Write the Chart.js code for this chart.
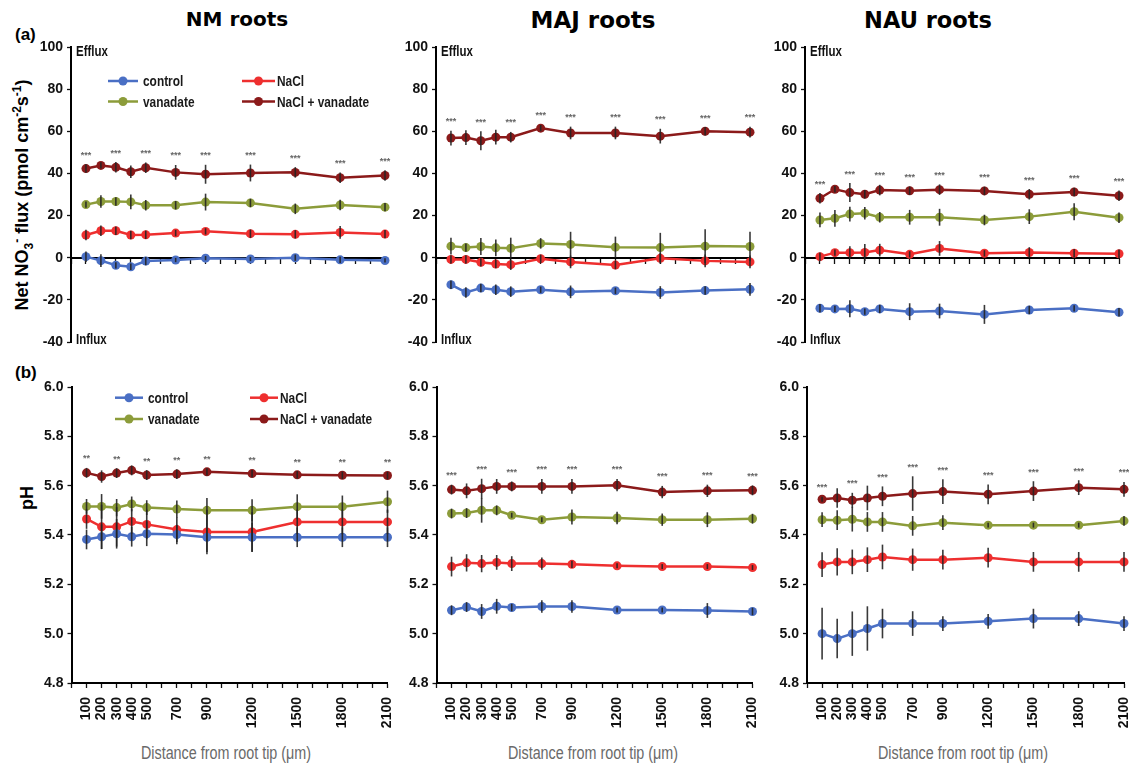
<!DOCTYPE html>
<html><head><meta charset="utf-8">
<script src="https://cdn.jsdelivr.net/npm/chart.js@4.4.0/dist/chart.umd.min.js"></script>
<style>
html,body{margin:0;padding:0;background:#fff;}
body{width:1129px;height:767px;position:relative;overflow:hidden;font-family:'Liberation Sans',Arial,sans-serif;}
canvas{position:absolute;}
.t{position:absolute;white-space:nowrap;color:#000;}
.title{font-family:'DejaVu Sans','Liberation Sans',sans-serif;font-weight:bold;transform:translate(-50%,-50%);}
.lab{font-weight:bold;font-size:17px;transform:translate(0,-50%);}
.ytitle{font-weight:bold;font-size:18px;transform:translate(-50%,-50%) rotate(-90deg);}
.ytitle sub,.ytitle sup{font-size:12px;}
.xtitle{font-size:17.5px;color:#6a6a6a;transform:translate(-50%,-50%) scaleX(0.82);}
</style></head><body>
<div class="t title" style="left:237px;top:19px;font-size:20px;">NM roots</div>
<div class="t title" style="left:593px;top:20px;font-size:23px;">MAJ roots</div>
<div class="t title" style="left:928px;top:20px;font-size:22.5px;">NAU roots</div>
<div class="t lab" style="left:15px;top:35px;">(a)</div>
<div class="t lab" style="left:15px;top:373px;">(b)</div>
<div class="t ytitle" style="left:23px;top:195px;">Net NO<sub>3</sub><sup>-</sup> flux (pmol cm<sup>-2</sup>s<sup>-1</sup>)</div>
<div class="t ytitle" style="left:27px;top:498px;">pH</div>
<div class="t xtitle" style="left:226px;top:753px;">Distance from root tip (μm)</div>
<div class="t xtitle" style="left:593px;top:753px;">Distance from root tip (μm)</div>
<div class="t xtitle" style="left:963px;top:753px;">Distance from root tip (μm)</div>
<script>
// ---------- data ----------
const distances = [100, 200, 300, 400, 500, 700, 900, 1200, 1500, 1800, 2100];
const xTickLabels = [100, 200, 300, 400, 500, 700, 900, 1200, 1500, 1800, 2100];
const starDistances = [100, 300, 500, 700, 900, 1200, 1500, 1800, 2100];
const seriesNames = ['control', 'NaCl', 'vanadate', 'NaCl + vanadate'];
const fluxTicks = [-40, -20, 0, 20, 40, 60, 80, 100];
const phTicks = [4.8, 5.0, 5.2, 5.4, 5.6, 5.8, 6.0];

// (a) NM roots – net NO3- flux
const nmFluxControl = [0.5, -1.4, -3.6, -4.3, -1.6, -1.1, -0.2, -0.6, 0, -1.0, -1.3];
const nmFluxControlErr = [2.5, 3, 1.5, 1.5, 2, 1, 1, 1, 1.5, 1.5, 1];
const nmFluxNaCl = [10.8, 12.8, 12.8, 10.8, 10.9, 11.7, 12.5, 11.4, 11.1, 12.0, 11.2];
const nmFluxNaClErr = [2.5, 2.5, 2, 2, 2, 1.5, 1.5, 2, 2, 3, 2];
const nmFluxVan = [25.2, 26.7, 26.7, 26.5, 24.9, 24.9, 26.4, 26.0, 23.2, 25.0, 24.0];
const nmFluxVanErr = [1.5, 3, 2, 3.5, 2.5, 2, 4, 2, 2.5, 2.5, 2];
const nmFluxNaClVan = [42.3, 43.8, 42.9, 40.8, 42.7, 40.5, 39.6, 40.2, 40.5, 38.0, 39.0];
const nmFluxNaClVanErr = [2, 1.5, 2.5, 3, 2.5, 3.5, 4.5, 4, 2.5, 2.5, 2.5];

// (a) MAJ roots
const majFluxControl = [-12.8, -16.5, -14.4, -15.2, -16.1, -15.2, -16.2, -15.7, -16.5, -15.6, -15.0];
const majFluxControlErr = [2, 2.5, 2, 2.5, 2.5, 1.5, 3, 1.5, 3, 2, 3];
const majFluxNaCl = [-0.8, -0.8, -2.2, -3.0, -3.3, -0.5, -2.0, -3.5, -0.3, -1.5, -2.0];
const majFluxNaClErr = [2, 2, 2, 2, 2.5, 2, 3, 2, 2.5, 3, 3];
const majFluxVan = [5.5, 4.8, 5.3, 4.7, 4.5, 6.8, 6.3, 5.0, 4.8, 5.5, 5.3];
const majFluxVanErr = [4, 2, 4, 4, 5, 2.5, 6, 5, 7, 8, 7];
const majFluxNaClVan = [56.8, 57.0, 55.5, 57.2, 57.2, 61.5, 59.2, 59.2, 57.7, 60.0, 59.6];
const majFluxNaClVanErr = [3.5, 3.5, 4.5, 3.5, 2.5, 1.5, 3, 3, 3.5, 2, 2.5];

// (a) NAU roots
const nauFluxControl = [-24.0, -24.3, -24.2, -25.6, -24.3, -25.6, -25.3, -26.9, -24.8, -24.0, -25.9];
const nauFluxControlErr = [2, 1.5, 4, 1.5, 2, 4, 3.5, 4.5, 2, 1.5, 2];
const nauFluxNaCl = [0.5, 2.4, 2.4, 2.5, 3.6, 1.6, 4.4, 2.1, 2.5, 2.1, 1.9];
const nauFluxNaClErr = [2, 1.5, 3, 4, 3, 1.5, 3.5, 1.5, 2.5, 2, 2];
const nauFluxVan = [17.9, 18.7, 20.7, 21.1, 19.2, 19.2, 19.2, 17.9, 19.5, 21.8, 19.0];
const nauFluxVanErr = [3.5, 4, 3.5, 3, 2.5, 3.5, 4, 2.5, 3.5, 4, 2.5];
const nauFluxNaClVan = [28.2, 32.5, 30.9, 30.1, 32.1, 31.8, 32.3, 31.7, 30.1, 31.2, 29.4];
const nauFluxNaClVanErr = [2.5, 1.5, 4.5, 2, 2.5, 2, 2.5, 2, 2.5, 2, 2.5];

// (b) NM roots – pH
const nmPhControl = [5.382, 5.393, 5.405, 5.393, 5.405, 5.402, 5.391, 5.391, 5.391, 5.391, 5.391];
const nmPhControlErr = [0.04, 0.05, 0.06, 0.04, 0.05, 0.04, 0.06, 0.06, 0.04, 0.04, 0.04];
const nmPhNaCl = [5.465, 5.433, 5.433, 5.455, 5.443, 5.422, 5.412, 5.412, 5.453, 5.453, 5.453];
const nmPhNaClErr = [0.04, 0.09, 0.08, 0.05, 0.06, 0.05, 0.09, 0.08, 0.05, 0.05, 0.05];
const nmPhVan = [5.516, 5.516, 5.511, 5.526, 5.511, 5.505, 5.5, 5.5, 5.515, 5.515, 5.535];
const nmPhVanErr = [0.03, 0.05, 0.035, 0.03, 0.03, 0.035, 0.05, 0.045, 0.05, 0.045, 0.045];
const nmPhNaClVan = [5.652, 5.637, 5.651, 5.662, 5.643, 5.647, 5.656, 5.649, 5.644, 5.642, 5.641];
const nmPhNaClVanErr = [0.02, 0.025, 0.02, 0.02, 0.02, 0.02, 0.015, 0.015, 0.015, 0.015, 0.015];

// (b) MAJ roots
const majPhControl = [5.095, 5.108, 5.090, 5.111, 5.106, 5.110, 5.110, 5.096, 5.096, 5.094, 5.090];
const majPhControlErr = [0.02, 0.02, 0.03, 0.03, 0.015, 0.025, 0.025, 0.01, 0.01, 0.03, 0.015];
const majPhNaCl = [5.272, 5.287, 5.284, 5.289, 5.284, 5.284, 5.281, 5.275, 5.272, 5.272, 5.268];
const majPhNaClErr = [0.04, 0.035, 0.035, 0.03, 0.03, 0.025, 0.015, 0.01, 0.01, 0.01, 0.01];
const majPhVan = [5.487, 5.489, 5.5, 5.5, 5.48, 5.462, 5.473, 5.469, 5.462, 5.462, 5.466];
const majPhVanErr = [0.02, 0.02, 0.05, 0.02, 0.01, 0.01, 0.03, 0.025, 0.025, 0.03, 0.02];
const majPhNaClVan = [5.584, 5.579, 5.588, 5.597, 5.597, 5.597, 5.597, 5.602, 5.574, 5.579, 5.581];
const majPhNaClVanErr = [0.02, 0.03, 0.04, 0.03, 0.02, 0.03, 0.03, 0.025, 0.025, 0.025, 0.02];

// (b) NAU roots
const nauPhControl = [5.0, 4.98, 5.0, 5.021, 5.041, 5.041, 5.041, 5.05, 5.061, 5.061, 5.041];
const nauPhControlErr = [0.105, 0.08, 0.09, 0.09, 0.06, 0.05, 0.03, 0.03, 0.04, 0.03, 0.03];
const nauPhNaCl = [5.28, 5.291, 5.291, 5.3, 5.311, 5.3, 5.3, 5.308, 5.291, 5.291, 5.291];
const nauPhNaClErr = [0.05, 0.055, 0.05, 0.05, 0.05, 0.045, 0.04, 0.04, 0.04, 0.04, 0.04];
const nauPhVan = [5.462, 5.46, 5.464, 5.453, 5.453, 5.437, 5.45, 5.44, 5.44, 5.44, 5.457];
const nauPhVanErr = [0.03, 0.04, 0.05, 0.04, 0.04, 0.04, 0.03, 0.01, 0.01, 0.01, 0.02];
const nauPhNaClVan = [5.545, 5.55, 5.541, 5.55, 5.557, 5.568, 5.576, 5.565, 5.578, 5.592, 5.585];
const nauPhNaClVanErr = [0.01, 0.04, 0.03, 0.05, 0.04, 0.07, 0.05, 0.04, 0.04, 0.03, 0.03];

// ---------- styles ----------
const COLORS = ['#4a6fc4', '#ee2f2f', '#8c9c3a', '#8b1a1a'];
const TICKFONT = "'Liberation Sans',Arial,sans-serif";

function series(c, n, v, nv) {
  return [c, n, v, nv].map((s, k) => ({ label: seriesNames[k], color: COLORS[k], data: s[0], err: s[1] }));
}

const panels = [
  { box: [0, 0, 425, 360], area: [71, 47, 385, 342], kind: 'flux', stars: '***',
    series: series([nmFluxControl, nmFluxControlErr], [nmFluxNaCl, nmFluxNaClErr], [nmFluxVan, nmFluxVanErr], [nmFluxNaClVan, nmFluxNaClVanErr]),
    legend: { cols: [{ x1: 108, x2: 138, tx: 143 }, { x1: 242, x2: 275, tx: 277 }], rows: [81, 101.5] } },
  { box: [392, 0, 400, 360], area: [436, 47, 750, 342], kind: 'flux', stars: '***',
    series: series([majFluxControl, majFluxControlErr], [majFluxNaCl, majFluxNaClErr], [majFluxVan, majFluxVanErr], [majFluxNaClVan, majFluxNaClVanErr]) },
  { box: [762, 0, 400, 360], area: [805, 47, 1119, 342], kind: 'flux', stars: '***',
    series: series([nauFluxControl, nauFluxControlErr], [nauFluxNaCl, nauFluxNaClErr], [nauFluxVan, nauFluxVanErr], [nauFluxNaClVan, nauFluxNaClVanErr]) },
  { box: [0, 360, 425, 407], area: [71.5, 387, 387.5, 683], kind: 'ph', stars: '**',
    series: series([nmPhControl, nmPhControlErr], [nmPhNaCl, nmPhNaClErr], [nmPhVan, nmPhVanErr], [nmPhNaClVan, nmPhNaClVanErr]),
    legend: { cols: [{ x1: 115, x2: 143, tx: 148 }, { x1: 250, x2: 278, tx: 280 }], rows: [397.7, 419] } },
  { box: [392, 360, 400, 407], area: [436.5, 387, 752.5, 683], kind: 'ph', stars: '***',
    series: series([majPhControl, majPhControlErr], [majPhNaCl, majPhNaClErr], [majPhVan, majPhVanErr], [majPhNaClVan, majPhNaClVanErr]) },
  { box: [762, 360, 400, 407], area: [807, 387, 1124, 683], kind: 'ph', stars: '***',
    series: series([nauPhControl, nauPhControlErr], [nauPhNaCl, nauPhNaClErr], [nauPhVan, nauPhVanErr], [nauPhNaClVan, nauPhNaClVanErr]) }
];

// narrow text: Liberation Sans Bold squeezed horizontally (Arial Narrow look)
function narrowText(ctx, text, x, y, size, color) {
  ctx.save();
  ctx.translate(x, y);
  ctx.scale(0.82, 1);
  ctx.fillStyle = color;
  ctx.font = 'bold ' + size + "px 'Liberation Sans', Arial, sans-serif";
  ctx.textAlign = 'left';
  ctx.textBaseline = 'middle';
  ctx.fillText(text, 0, 0);
  ctx.restore();
}

// ---------- plugins ----------
const errPlugin = {
  id: 'errbars',
  afterDatasetsDraw(chart) {
    const { ctx, scales: { x, y } } = chart;
    ctx.save();
    ctx.strokeStyle = 'rgba(35,35,35,0.9)';
    ctx.lineWidth = 1.6;
    chart.data.datasets.forEach(ds => {
      ds.data.forEach((pt, i) => {
        const e = ds.errValues[i];
        const px = x.getPixelForValue(pt.x);
        ctx.beginPath();
        ctx.moveTo(px, y.getPixelForValue(pt.y + e));
        ctx.lineTo(px, y.getPixelForValue(pt.y - e));
        ctx.stroke();
      });
    });
    ctx.restore();
  }
};

const annoPlugin = {
  id: 'anno',
  afterDraw(chart) {
    const p = chart.options.plugins.anno;
    const { ctx, scales: { x, y } } = chart;
    ctx.save();
    if (p.kind === 'flux') {
      const ax = x.getPixelForValue(0);
      narrowText(ctx, 'Efflux', ax + 5, y.getPixelForValue(100) + 5, 14, '#111');
      narrowText(ctx, 'Influx', ax + 5, y.getPixelForValue(-40) - 2, 14, '#111');
    }
    // significance stars above NaCl + vanadate
    const ds = chart.data.datasets[3];
    ctx.fillStyle = '#666';
    ctx.font = "bold 9px 'Liberation Sans', Arial, sans-serif";
    ctx.textAlign = 'center';
    ctx.textBaseline = 'middle';
    starDistances.forEach(d => {
      const i = distances.indexOf(d);
      const pt = ds.data[i];
      const top = y.getPixelForValue(pt.y + ds.errValues[i]);
      ctx.fillText(p.stars, x.getPixelForValue(d), top - 9);
    });
    // legend
    if (p.legend) {
      const order = [[0, 0], [1, 0], [0, 1], [1, 1]]; // [col,row] for control, NaCl, vanadate, NaCl+van
      chart.data.datasets.forEach((d, k) => {
        const c = p.legend.cols[order[k][0]];
        const ry = p.legend.rows[order[k][1]] - p.box[1];
        const x1 = c.x1 - p.box[0], x2 = c.x2 - p.box[0];
        ctx.strokeStyle = d.borderColor;
        ctx.lineWidth = 2.5;
        ctx.beginPath(); ctx.moveTo(x1, ry); ctx.lineTo(x2, ry); ctx.stroke();
        ctx.fillStyle = d.borderColor;
        ctx.beginPath(); ctx.arc((x1 + x2) / 2, ry, 4.5, 0, Math.PI * 2); ctx.fill();
        narrowText(ctx, d.label, c.tx - p.box[0], ry + 1, 14.5, '#1a1a1a');
      });
    }
    ctx.restore();
  }
};

// ---------- build charts ----------
panels.forEach(p => {
  const cv = document.createElement('canvas');
  cv.width = p.box[2]; cv.height = p.box[3];
  cv.style.left = p.box[0] + 'px'; cv.style.top = p.box[1] + 'px';
  cv.style.width = p.box[2] + 'px'; cv.style.height = p.box[3] + 'px';
  document.body.appendChild(cv);
  const isPh = p.kind === 'ph';
  const YW = 40, XH = isPh ? 84 : 0;
  const padding = {
    left: p.area[0] - p.box[0] - YW,
    top: p.area[1] - p.box[1],
    right: p.box[0] + p.box[2] - p.area[2],
    bottom: p.box[1] + p.box[3] - p.area[3] - XH
  };
  const yt = isPh ? phTicks : fluxTicks;
  new Chart(cv, {
    type: 'line',
    data: {
      datasets: p.series.map(s => ({
        label: s.label,
        data: distances.map((d, i) => ({ x: d, y: s.data[i] })),
        errValues: s.err,
        borderColor: s.color,
        backgroundColor: s.color,
        borderWidth: 2.5,
        pointRadius: 4.5,
        pointBorderWidth: 0,
        pointBackgroundColor: s.color,
        tension: 0,
        clip: false
      }))
    },
    options: {
      responsive: false,
      animation: false,
      devicePixelRatio: 1,
      layout: { padding },
      plugins: { legend: { display: false }, tooltip: { enabled: false },
                 anno: { kind: p.kind, stars: p.stars, legend: p.legend, box: p.box } },
      scales: {
        x: {
          type: 'linear', min: 0, max: 2100,
          position: isPh ? 'bottom' : { y: 0 },
          afterFit: s => { s.height = XH; },
          ticks: {
            display: isPh, autoSkip: false, stepSize: 100,
            minRotation: 90, maxRotation: 90, padding: 9,
            color: '#111', font: { family: TICKFONT, size: 14, weight: 'bold' },
            callback: v => xTickLabels.includes(v) ? String(v) : ''
          },
          grid: { drawOnChartArea: false, drawTicks: true, tickLength: 5, color: '#111', tickWidth: 1.3 },
          border: { display: true, color: '#000', width: 2 }
        },
        y: {
          type: 'linear', min: yt[0], max: yt[yt.length - 1],
          afterFit: s => { s.width = YW; },
          afterBuildTicks: s => { s.ticks = yt.map(v => ({ value: v })); },
          ticks: {
            padding: 4, color: '#111', font: { family: TICKFONT, size: 14, weight: 'bold' },
            callback: v => isPh ? Number(v).toFixed(1) : String(v)
          },
          grid: { drawOnChartArea: false, drawTicks: true, tickLength: 4, color: '#111', tickWidth: 1.3 },
          border: { display: true, color: '#000', width: 2 }
        }
      }
    },
    plugins: [errPlugin, annoPlugin]
  });
});
</script>
</body></html>
